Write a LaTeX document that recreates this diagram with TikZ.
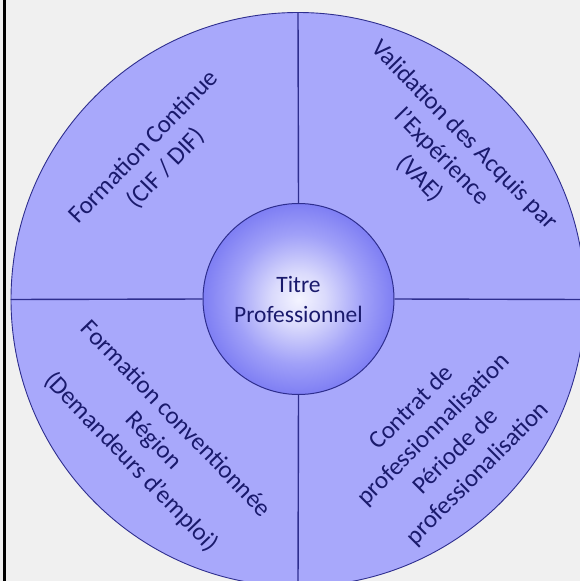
\documentclass[tikz,border=0pt]{standalone}
\usepackage{fontspec}
\setmainfont{Carlito}
\definecolor{bg}{HTML}{F0F0F0}
\definecolor{ringfill}{HTML}{A8A8FB}
\definecolor{edge}{HTML}{2E2E8E}
\definecolor{txt}{HTML}{1A1A6C}
\definecolor{ballA}{HTML}{F4F4FF}
\definecolor{ballB}{HTML}{DADAFC}
\definecolor{ballC}{HTML}{A0A0F8}
\definecolor{ballD}{HTML}{7272F2}
\definecolor{ballE}{HTML}{5050EC}
\pgfdeclareradialshading{titreball}{\pgfpoint{0bp}{0bp}}{color(0bp)=(ballA); color(7bp)=(ballB); color(17bp)=(ballC); color(28bp)=(ballD); color(35bp)=(ballE); color(50bp)=(ballE)}
\tikzset{
  ring/.style={circle, draw=edge, line width=0.9pt, fill=ringfill, minimum size=574pt, inner sep=0pt},
  hub/.style={circle, draw=edge, line width=1pt, shading=titreball, minimum size=191pt, inner sep=0pt,
    text=txt, align=center, font=\fontsize{23.5}{30}\selectfont},
  divider/.style={draw=edge, line width=1.4pt},
  label/.style={text=txt, align=center, font=\fontsize{25}{31}\selectfont, inner sep=0pt}
}
\begin{document}
\begin{tikzpicture}[x=1pt,y=-1pt]
\useasboundingbox (0,0) rectangle (580,581);
\clip (0,0) rectangle (580,581);
\fill[bg] (0,0) rectangle (580,581);
\coordinate (lt) at (4.5,0);
\coordinate (lb) at (4.5,581);
\draw[black, line width=2.3pt] (lt) -- (lb);
\node[ring] (outer) at (298,299.5) {};
\node[hub] (inner) at (298.5,299) {Titre\\Professionnel};
\draw[divider] (outer.north) -- (inner.north);
\draw[divider] (outer.south) -- (inner.south);
\draw[divider] (outer.west) -- (inner.west);
\draw[divider] (outer.east) -- (inner.east);
\node[label, rotate=46] (fc) at (155,158) {Formation Continue\\(CIF / DIF)};
\node[label, rotate=-45.5] (vae) at (442,157) {Validation des Acquis par\\l’Expérience\\(VAE)};
\node[label, rotate=-46] (fcr) at (153,441) {Formation conventionnée\\Région\\(Demandeurs d’emploi)};
\node[label, rotate=45] (cp) at (445,441) {Contrat de\\professionnalisation\\Période de\\professionalisation};
\end{tikzpicture}
\end{document}
